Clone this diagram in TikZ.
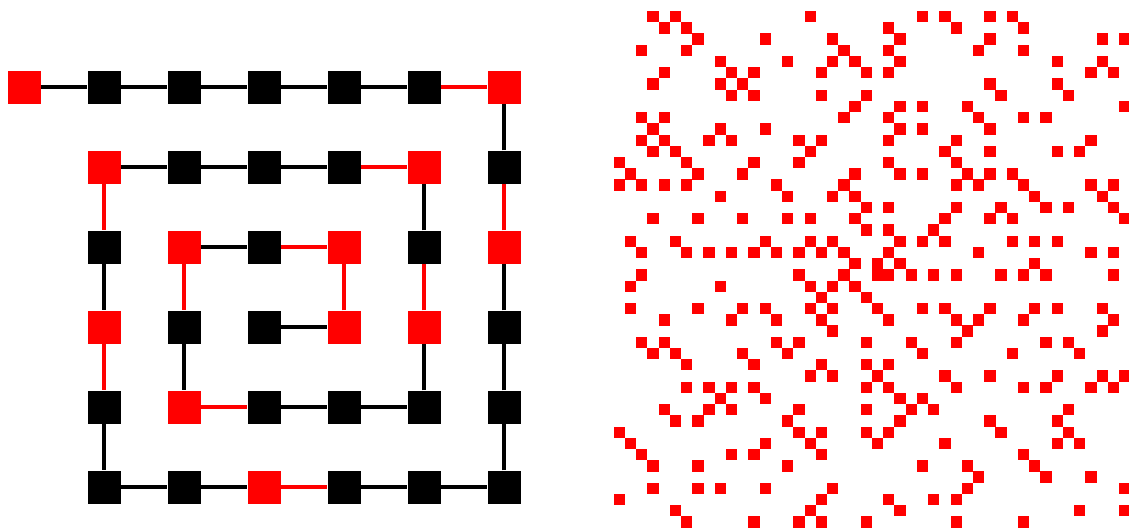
\documentclass[tikz,border=0pt]{standalone}
\usetikzlibrary{backgrounds}
\newcount\ulN \newcount\ulX \newcount\ulY \newcount\ulDir \newcount\ulLen \newcount\ulStep
\newcount\ulD \newcount\ulT
\newif\ifulprime
\def\ulPrimeLoop{%
  \let\ulNext\relax
  \ifulprime
    \ulT=\ulD \multiply\ulT\ulD
    \ifnum\ulT>\ulN\else
      \ulT=\ulN \divide\ulT\ulD \multiply\ulT\ulD
      \ifnum\ulT=\ulN \ulprimefalse\fi
      \advance\ulD 1
      \let\ulNext\ulPrimeLoop
    \fi
  \fi
  \ulNext}
\def\ulPrimeTest{%
  \ulprimetrue
  \ifnum\ulN<2 \ulprimefalse\fi
  \ulD=2
  \ulPrimeLoop}
\def\ulCell{%
  \pgfmathsetmacro\ulcx{860.7+(\the\ulX)*11.23}%
  \pgfmathsetmacro\ulcy{269.3-(\the\ulY)*11.23}%
  \fill[red] (\ulcx,\ulcy) rectangle ++(11.3,11.3);}
\def\ulMove{%
  \ifcase\ulDir \advance\ulX 1 \or \advance\ulY 1 \or \advance\ulX -1 \or \advance\ulY -1 \fi
  \advance\ulStep 1
  \ifnum\ulStep=\ulLen
    \ulStep=0
    \advance\ulDir 1
    \ifnum\ulDir=4 \ulDir=0 \fi
    \ifodd\ulDir\else \advance\ulLen 1 \fi
  \fi}
\def\ulSpiral{%
  \ulPrimeTest
  \ifulprime \let\ulAct\ulCell \else \let\ulAct\relax \fi
  \ulAct
  \ifnum\ulN<2116
    \advance\ulN 1 \ulMove
    \let\ulGo\ulSpiral
  \else
    \let\ulGo\relax
  \fi
  \ulGo}
\begin{document}
\begin{tikzpicture}[x=1pt,y=-1pt,
  sq/.style={rectangle, minimum size=33pt, inner sep=0pt, fill=black},
  pr/.style={sq, fill=red},
  link/.style={line width=3.5pt, black},
  plink/.style={line width=3.5pt, red}]
\useasboundingbox (0,0) rectangle (1129,531);
% left spiral nodes
\node[sq] (n1) at (264,327) {};
\node[pr] (n2) at (344,327) {};
\node[pr] (n3) at (344,247) {};
\node[sq] (n4) at (264,247) {};
\node[pr] (n5) at (184,247) {};
\node[sq] (n6) at (184,327) {};
\node[pr] (n7) at (184,407) {};
\node[sq] (n8) at (264,407) {};
\node[sq] (n9) at (344,407) {};
\node[sq] (n10) at (424,407) {};
\node[pr] (n11) at (424,327) {};
\node[sq] (n12) at (424,247) {};
\node[pr] (n13) at (424,167) {};
\node[sq] (n14) at (344,167) {};
\node[sq] (n15) at (264,167) {};
\node[sq] (n16) at (184,167) {};
\node[pr] (n17) at (104,167) {};
\node[sq] (n18) at (104,247) {};
\node[pr] (n19) at (104,327) {};
\node[sq] (n20) at (104,407) {};
\node[sq] (n21) at (104,487) {};
\node[sq] (n22) at (184,487) {};
\node[pr] (n23) at (264,487) {};
\node[sq] (n24) at (344,487) {};
\node[sq] (n25) at (424,487) {};
\node[sq] (n26) at (504,487) {};
\node[sq] (n27) at (504,407) {};
\node[sq] (n28) at (504,327) {};
\node[pr] (n29) at (504,247) {};
\node[sq] (n30) at (504,167) {};
\node[pr] (n31) at (504,87) {};
\node[sq] (n32) at (424,87) {};
\node[sq] (n33) at (344,87) {};
\node[sq] (n34) at (264,87) {};
\node[sq] (n35) at (184,87) {};
\node[sq] (n36) at (104,87) {};
\node[pr] (n37) at (24,87) {};
\begin{scope}[on background layer]
\foreach \a/\b in {1/2,4/5,6/7,8/9,9/10,10/11,12/13,14/15,15/16,16/17,18/19,20/21,21/22,22/23,24/25,25/26,26/27,27/28,28/29,30/31,32/33,33/34,34/35,35/36,36/37}
  \draw[link] (n\a) -- (n\b);
\foreach \a/\b in {2/3,3/4,5/6,7/8,11/12,13/14,17/18,19/20,23/24,29/30,31/32}
  \draw[plink] (n\a) -- (n\b);
\end{scope}
% right spiral: primes up to 2116
\ulN=1 \ulX=0 \ulY=0 \ulDir=0 \ulLen=1 \ulStep=0
\ulSpiral
\end{tikzpicture}
\end{document}
